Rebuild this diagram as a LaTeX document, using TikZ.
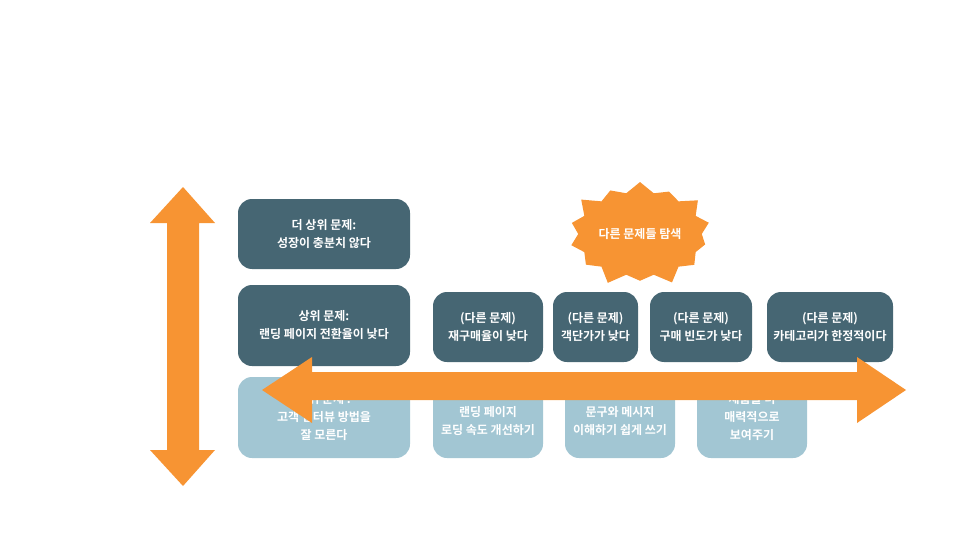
\documentclass[tikz,border=0pt]{standalone}
\usepackage{fontspec}
\setmainfont{Noto Sans CJK KR}[BoldFont={Noto Sans CJK KR Bold}]
\usetikzlibrary{shapes.symbols,positioning}
\definecolor{darkbox}{HTML}{466673}
\definecolor{lightbox}{HTML}{A2C6D3}
\definecolor{arroworange}{HTML}{F79433}
\tikzset{problem node/.style={fill=darkbox, text=white, rounded corners=14pt,
    align=center, font=\bfseries\fontsize{12}{18}\selectfont, inner sep=0pt}}
\tikzset{solution node/.style={problem node, fill=lightbox}}
\tikzset{big arrow/.style={fill=arroworange}}
\begin{document}
\begin{tikzpicture}[x=1pt, y=-1pt]
  \useasboundingbox (0,0) rectangle (960,540);

  \node [problem node, minimum width=172pt, minimum height=70pt]  (upper2) at (324,234) {더 상위 문제:\\성장이 충분치 않다};
  \node [problem node, minimum width=172pt, minimum height=81pt]  (upper1) at (324,325.5) {상위 문제:\\랜딩 페이지 전환율이 낮다};
  \node [problem node, minimum width=110pt, minimum height=70pt]  (other1) at (488,327) {(다른 문제)\\재구매율이 낮다};
  \node [problem node, minimum width=85pt,  minimum height=70pt]  (other2) at (595.5,327) {(다른 문제)\\객단가가 낮다};
  \node [problem node, minimum width=102pt, minimum height=70pt]  (other3) at (701,327) {(다른 문제)\\구매 빈도가 낮다};
  \node [problem node, minimum width=126pt, minimum height=70pt]  (other4) at (830,327) {(다른 문제)\\카테고리가 한정적이다};

  \node [solution node, minimum width=172pt, minimum height=81pt] (lower)  at (324,417.5) {하위 문제 :\\고객 인터뷰 방법을\\잘 모른다};
  \node [solution node, minimum width=110pt, minimum height=81pt] (fix1)   at (488,417.5) {\\랜딩 페이지\\로딩 속도 개선하기};
  \node [solution node, minimum width=110pt, minimum height=81pt] (fix2)   at (620,417.5) {\\문구와 메시지\\이해하기 쉽게 쓰기};
  \node [solution node, minimum width=110pt, minimum height=81pt] (fix3)   at (752,417.5) {제품을 더\\매력적으로\\보여주기};

  \node [starburst, starburst points=14, fill=arroworange,
         text=white, font=\bfseries\fontsize{12}{18}\selectfont,
         minimum width=152pt, minimum height=112pt, inner sep=0pt] (explore) at (640,234) {다른 문제들 탐색};

  % vertical arrow
  \fill [big arrow] (183,187) -- (215,223) -- (199,223) -- (199,450) -- (215,450)
    -- (183,486) -- (150,450) -- (167,450) -- (167,223) -- (150,223) -- cycle;
  % horizontal arrow
  \fill [big arrow] (262,390) -- (312,357) -- (312,372) -- (857,372) -- (857,357)
    -- (906,390) -- (857,423) -- (857,400) -- (312,400) -- (312,423) -- cycle;
\end{tikzpicture}
\end{document}
